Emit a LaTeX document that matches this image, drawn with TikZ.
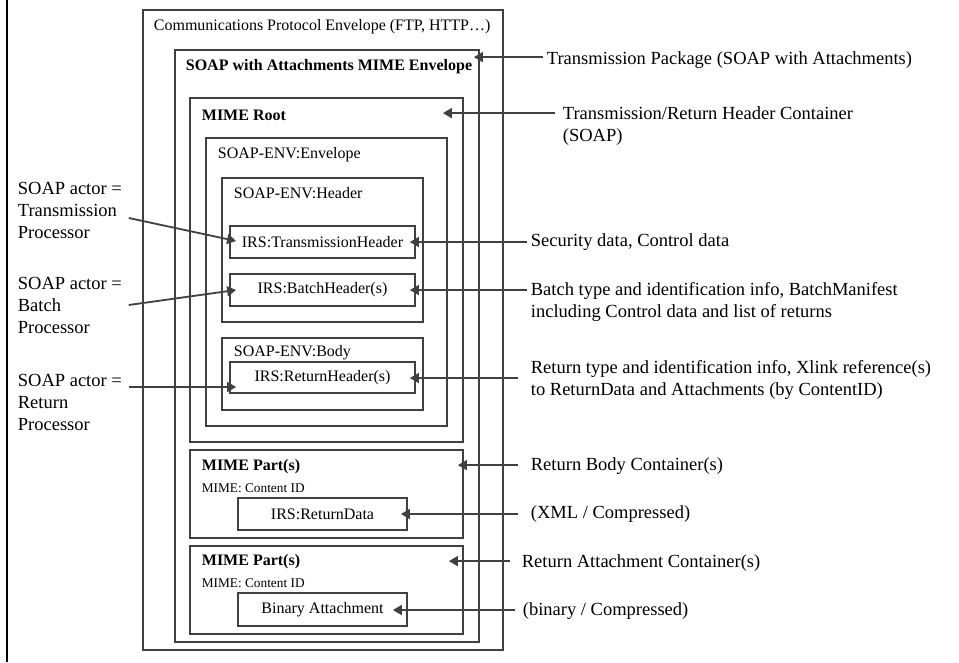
\documentclass[tikz,border=0pt]{standalone}
\usepackage{fontspec}
\setmainfont{Liberation Serif}
\usetikzlibrary{arrows.meta}

\tikzset{
  box/.style={draw=black!75, inner sep=0pt},
  boxtext/.style={font=\fontsize{16}{19}\selectfont},
  title/.style={anchor=west, inner sep=0pt, font=\fontsize{16}{19}\selectfont},
  boldtitle/.style={title, font=\fontsize{16}{19}\selectfont\bfseries},
  smalltitle/.style={title, font=\fontsize{13.3}{16}\selectfont},
  note/.style={anchor=west, inner sep=0pt, align=left, font=\fontsize{18.5}{22}\selectfont},
}

\begin{document}
\begin{tikzpicture}[x=1pt, y=-1pt, line width=1.8pt,
    >={Triangle[length=9pt,width=10pt]}]

      \useasboundingbox (0,0) rectangle (959,662);
      \draw[black, line width=2pt] (7,0) -- (7,662);

      % nested containers
      \begin{scope}[every node/.style={box}]
        \node[minimum width=360pt, minimum height=640pt] (1)  at (323,330)   {};
        \node[minimum width=304pt, minimum height=592pt] (2)  at (327,346)   {};
        \node[minimum width=273pt, minimum height=344pt] (3)  at (326.5,270) {};
        \node[minimum width=241pt, minimum height=288pt] (4)  at (326.5,282) {};
        \node[minimum width=201pt, minimum height=144pt] (5)  at (322.5,250) {};
        \node[minimum width=201pt, minimum height=72pt]  (8)  at (322.5,374) {};
        \node[minimum width=273pt, minimum height=88pt]  (10) at (326.5,494) {};
        \node[minimum width=273pt, minimum height=88pt]  (12) at (326.5,590) {};
      \end{scope}

      % inner elements
      \begin{scope}[every node/.style={box, boxtext, minimum width=185pt, minimum height=32pt}]
        \node (6)  at (322.5,242)   {IRS:TransmissionHeader};
        \node (7)  at (322.5,290)   {IRS:BatchHeader(s)};
        \node[minimum height=31pt] (9)  at (322.5,377.5) {IRS:ReturnHeader(s)};
        \node[minimum width=169pt] (11) at (322.5,514)   {IRS:ReturnData};
        \node[minimum width=169pt, minimum height=33pt] (13) at (322.5,609.5) {Binary Attachment};
      \end{scope}

      % container titles
      \node[title]      (14) at (153,27)  {Communications Protocol Envelope (FTP, HTTP…)};
      \node[boldtitle]  (15) at (185,67)  {SOAP with Attachments MIME Envelope};
      \node[boldtitle]  (16) at (201,115) {MIME Root};
      \node[title]      (17) at (217,155) {SOAP-ENV:Envelope};
      \node[title]      (18) at (233,193) {SOAP-ENV:Header};
      \node[title]      (19) at (233,353) {SOAP-ENV:Body};
      \node[boldtitle]  (20) at (201,467) {MIME Part(s)};
      \node[smalltitle] (21) at (201,488) {MIME: Content ID};
      \node[boldtitle]  (22) at (201,562) {MIME Part(s)};
      \node[smalltitle] (23) at (201,583) {MIME: Content ID};

      % actors
      \node[note] (24) at (17,210) {SOAP actor =\\Transmission\\Processor};
      \node[note] (25) at (17,305) {SOAP actor =\\Batch\\Processor};
      \node[note] (26) at (17,402) {SOAP actor =\\Return\\Processor};

      % descriptions
      \node[note] (27) at (546,60)  {Transmission Package (SOAP with Attachments)};
      \node[note] (28) at (562,126) {Transmission/Return Header Container\\(SOAP)};
      \node[note] (29) at (530,242) {Security data, Control data};
      \node[note] (30) at (530,302) {Batch type and identification info, BatchManifest\\including Control data and list of returns};
      \node[note] (31) at (530,380) {Return type and identification info, Xlink reference(s)\\to ReturnData and Attachments (by ContentID)};
      \node[note] (32) at (530,466) {Return Body Container(s)};
      \node[note] (33) at (530,514) {(XML / Compressed)};
      \node[note] (34) at (521,563) {Return Attachment Container(s)};
      \node[note] (35) at (522,611) {(binary / Compressed)};

      % arrow ends
      \coordinate (a1) at ([shift={(-6pt,-8pt)}]2.north east);
      \coordinate (a2) at ([shift={(-21pt,-16pt)}]3.north east);
      \coordinate (a3) at ([xshift=-6pt]6.east);
      \coordinate (a4) at ([xshift=-6pt]7.east);
      \coordinate (a5) at ([shift={(-6pt,-0.5pt)}]9.east);
      \coordinate (a6) at ([shift={(-6pt,-16pt)}]10.north east);
      \coordinate (a7) at ([xshift=-7pt]11.east);
      \coordinate (a8) at ([shift={(-15pt,-16pt)}]12.north east);
      \coordinate (a9) at ([shift={(-15pt,-0.5pt)}]13.east);
      \coordinate (b1) at ([shift={(7pt,1pt)}]6.west);
      \coordinate (b2) at ([xshift=7pt]7.west);
      \coordinate (b3) at ([shift={(7pt,-9.5pt)}]9.west);

      \begin{scope}[black!75, line width=1.8pt]
        \draw[->] ([xshift=-3pt]27.west |- a1) -- (a1);
        \draw[->] ([xshift=-7pt]28.west |- a2) -- (a2);
        \draw[->] ([xshift=-3pt]29.west |- a3) -- (a3);
        \draw[->] ([xshift=-3pt]30.west |- a4) -- (a4);
        \draw[->] ([xshift=-12pt]31.west |- a5) -- (a5);
        \draw[->] ([xshift=-12pt]32.west |- a6) -- (a6);
        \draw[->] ([xshift=-12pt]33.west |- a7) -- (a7);
        \draw[->] ([xshift=-11pt]34.west |- a8) -- (a8);
        \draw[->] ([xshift=-7pt]35.west |- a9) -- (a9);
        \draw[->] ([shift={(6pt,-8pt)}]24.east) -- (b1);
        \draw[->] ([xshift=6pt]25.east) -- (b2);
        \draw[->] ([xshift=6pt]26.east |- b3) -- (b3);
      \end{scope}

\end{tikzpicture}
\end{document}
